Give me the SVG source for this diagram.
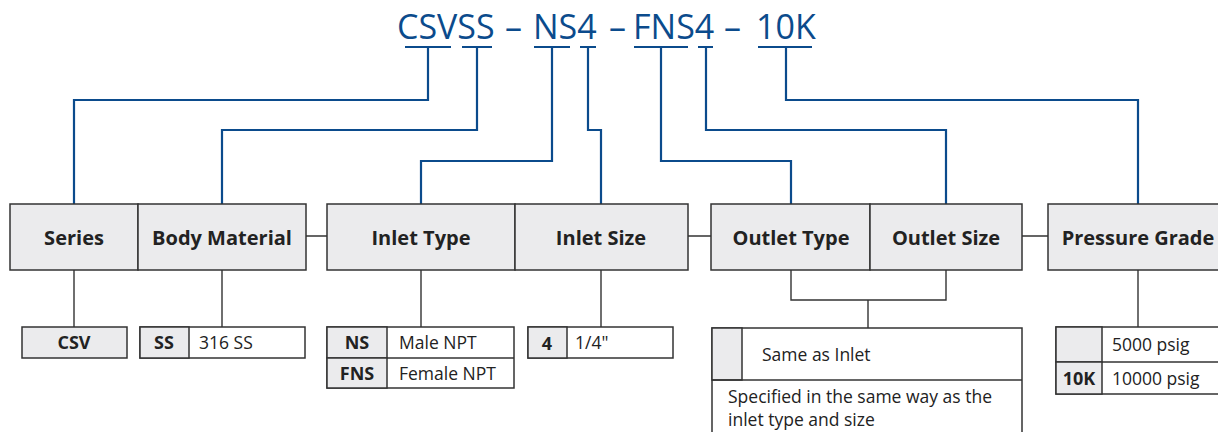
<svg xmlns="http://www.w3.org/2000/svg" width="1218" height="432" viewBox="0 0 1218 432">
<style>
.title{font-family:"Open Sans","Noto Sans",sans-serif;font-size:34px;fill:#0b4b8c}
.blue{fill:none;stroke:#0b4b8c;stroke-width:2.2}
.dk{fill:none;stroke:#333;stroke-width:1.4}
.box{fill:#ebebed;stroke:#333;stroke-width:1.5}
.wbox{fill:#fff;stroke:#333;stroke-width:1.5}
.hd{font-family:"Open Sans","Noto Sans",sans-serif;font-size:20px;font-weight:bold;fill:#222;text-anchor:middle}
.cb{font-family:"Open Sans","Noto Sans",sans-serif;font-size:18px;font-weight:bold;fill:#222;text-anchor:middle}
.ct{font-family:"Open Sans","Noto Sans",sans-serif;font-size:17.5px;fill:#222}
</style>
<g id="title">
<text class="title" x="397" y="39">CSVSS</text>
<text class="title" x="505" y="39">–</text>
<text class="title" x="533" y="39">NS4</text>
<text class="title" x="609" y="39">–</text>
<text class="title" x="633" y="39">FNS4</text>
<text class="title" x="724" y="39">–</text>
<text class="title" x="756" y="39">10K</text>
</g>
<g id="connectors">
<g class="blue">
<path d="M405 47H451M462 47H492M534 47H570M580 47H596M634 47H688M698 47H713M758 47H812"/>
<path d="M428 47V100H74V205"/>
<path d="M477 47V130H222V205"/>
<path d="M552 47V161H421V205"/>
<path d="M588 47V130H601V205"/>
<path d="M661 47V161H791V205"/>
<path d="M706 47V130H946V205"/>
<path d="M786 47V100H1138V205"/>
</g>
<g class="dk">
<path d="M306 236H327M688 236H711M1022 236H1048"/>
<path d="M74 270V328M222 270V328M421 270V328M601 270V328"/>
<path d="M791 270V300H946V270M868 300V328"/>
<path d="M1138 270V328"/>
</g>
</g>
<g id="series"><rect class="box" x="10" y="204" width="128" height="66"/><text class="hd" x="74" y="245">Series</text></g>
<g id="body-material"><rect class="box" x="138" y="204" width="168" height="66"/><text class="hd" x="222" y="245">Body Material</text></g>
<g id="inlet-type"><rect class="box" x="327" y="204" width="188" height="66"/><text class="hd" x="421" y="245">Inlet Type</text></g>
<g id="inlet-size"><rect class="box" x="515" y="204" width="173" height="66"/><text class="hd" x="601" y="245">Inlet Size</text></g>
<g id="outlet-type"><rect class="box" x="711" y="204" width="159" height="66"/><text class="hd" x="791" y="245">Outlet Type</text></g>
<g id="outlet-size"><rect class="box" x="870" y="204" width="152" height="66"/><text class="hd" x="946" y="245">Outlet Size</text></g>
<g id="pressure-grade"><rect class="box" x="1048" y="204" width="180" height="66"/><text class="hd" x="1138" y="245">Pressure Grade</text></g>

<g id="series-opts"><rect class="box" x="22" y="327" width="105" height="31"/><text class="cb" x="74" y="349">CSV</text></g>
<g id="body-opts">
<rect class="wbox" x="140" y="327" width="165" height="31"/>
<rect class="box" x="140" y="327" width="49" height="31"/>
<text class="cb" x="164" y="349">SS</text>
<text class="ct" x="199" y="349">316 SS</text>
</g>
<g id="inlet-type-opts">
<rect class="wbox" x="327" y="327" width="187" height="61"/>
<rect class="box" x="327" y="327" width="60" height="31"/>
<rect class="box" x="327" y="358" width="60" height="30"/>
<line class="dk" x1="387" y1="358" x2="514" y2="358"/>
<text class="cb" x="357" y="349">NS</text>
<text class="cb" x="357" y="380">FNS</text>
<text class="ct" x="399" y="349">Male NPT</text>
<text class="ct" x="399" y="380">Female NPT</text>
</g>
<g id="inlet-size-opts">
<rect class="wbox" x="528" y="327" width="145" height="31"/>
<rect class="box" x="528" y="327" width="39" height="31"/>
<text class="cb" x="547" y="350">4</text>
<text class="ct" x="575" y="349">1/4"</text>
</g>
<g id="outlet-opts">
<rect class="wbox" x="712" y="328" width="310" height="110"/>
<rect class="box" x="712" y="328" width="30" height="52"/>
<line class="dk" x1="712" y1="380" x2="1022" y2="380"/>
<text class="ct" x="762" y="361">Same as Inlet</text>
<text class="ct" x="728" y="403">Specified in the same way as the</text>
<text class="ct" x="728" y="426">inlet type and size</text>
</g>
<g id="pressure-opts">
<rect class="wbox" x="1056" y="327" width="170" height="67"/>
<rect class="box" x="1056" y="327" width="46" height="35"/>
<rect class="box" x="1056" y="362" width="46" height="32"/>
<line class="dk" x1="1102" y1="362" x2="1226" y2="362"/>
<text class="cb" x="1079" y="385">10K</text>
<text class="ct" x="1112" y="351">5000 psig</text>
<text class="ct" x="1112" y="385">10000 psig</text>
</g>
</svg>
